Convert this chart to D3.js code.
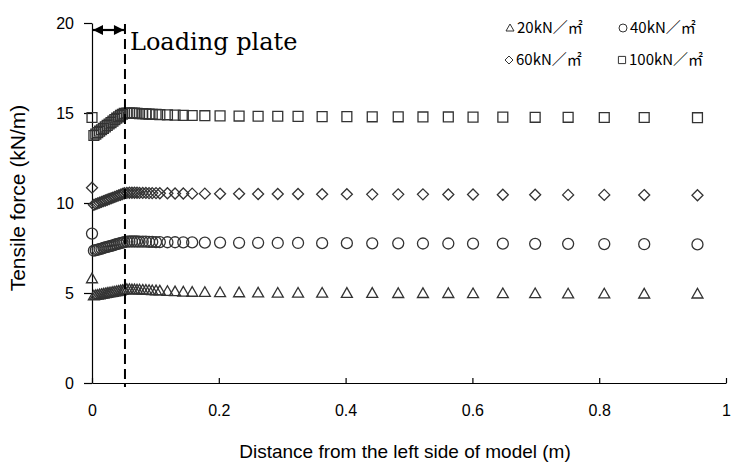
<!DOCTYPE html>
<html>
<head>
<meta charset="utf-8">
<style>
  body { margin: 0; background: #fff; }
  svg { display: block; }
  .axis text { font: 16px "Liberation Sans", Arial, sans-serif; fill: #000; }
  .axis path, .axis line { stroke: #000; stroke-width: 1.2; }
  .xtitle { font: 19px "Liberation Sans", Arial, sans-serif; fill: #000; }
  .ytitle { font: 21px "Liberation Sans", Arial, sans-serif; fill: #000; }
  .legend text { font: 15px "Noto Sans CJK JP", sans-serif; fill: #000; }
  .note { font: 24px "DejaVu Serif", serif; fill: #000; }
</style>
</head>
<body>
<svg id="chart" width="733" height="468"></svg>
<script src="https://cdn.jsdelivr.net/npm/d3@7"></script>
<script>
// distance from the left side of model (m)
var distance = [0, 0.003, 0.006, 0.009, 0.012, 0.015, 0.018, 0.021, 0.024, 0.027,
  0.030, 0.033, 0.036, 0.039, 0.042, 0.045, 0.048, 0.051,
  0.055, 0.059, 0.063, 0.067, 0.071, 0.075, 0.080, 0.085, 0.090, 0.095, 0.101, 0.107,
  0.119, 0.131, 0.144, 0.158, 0.178, 0.202, 0.232, 0.262, 0.293, 0.325,
  0.363, 0.402, 0.442, 0.483, 0.522, 0.562, 0.601,
  0.648, 0.699, 0.751, 0.808, 0.871, 0.955];

// tensile force (kN/m) per loading
var force20 = [5.8,
  4.85, 4.87, 4.89, 4.91, 4.93, 4.95, 4.97, 4.99, 5.01, 5.03, 5.05, 5.07, 5.09, 5.11, 5.13, 5.15, 5.18,
  5.2, 5.2, 5.19, 5.19, 5.18, 5.18, 5.17, 5.16, 5.15, 5.14, 5.13, 5.12,
  5.1, 5.08, 5.06, 5.05, 5.04, 5.03, 5.02, 5.01, 5.0, 5.0,
  5.0, 4.99, 4.99, 4.98, 4.98, 4.98, 4.97,
  4.97, 4.97, 4.96, 4.96, 4.95, 4.95];
var force40 = [8.3,
  7.35, 7.38, 7.41, 7.44, 7.47, 7.50, 7.53, 7.56, 7.59, 7.62, 7.65, 7.68, 7.71, 7.74, 7.77, 7.80, 7.83,
  7.85, 7.86, 7.86, 7.86, 7.86, 7.85, 7.85, 7.85, 7.84, 7.84, 7.83, 7.83,
  7.82, 7.82, 7.81, 7.81, 7.8, 7.8, 7.79, 7.79, 7.78, 7.78,
  7.77, 7.77, 7.76, 7.76, 7.75, 7.75, 7.74,
  7.74, 7.73, 7.73, 7.72, 7.71, 7.7];
var force60 = [10.85,
  9.9, 9.94, 9.98, 10.02, 10.06, 10.1, 10.14, 10.18, 10.22, 10.26, 10.3, 10.34, 10.38, 10.42, 10.46, 10.5, 10.54,
  10.56, 10.57, 10.57, 10.57, 10.57, 10.56, 10.56, 10.56, 10.55, 10.55, 10.55, 10.54,
  10.54, 10.53, 10.53, 10.52, 10.52, 10.51, 10.51, 10.5, 10.5, 10.5,
  10.49, 10.49, 10.48, 10.48, 10.48, 10.47, 10.47,
  10.46, 10.46, 10.45, 10.45, 10.44, 10.43];
var force100 = [14.75,
  13.75, 13.83, 13.91, 13.99, 14.07, 14.15, 14.23, 14.31, 14.39, 14.47, 14.55, 14.63, 14.71, 14.79, 14.87, 14.93, 14.98,
  15.0, 15.0, 15.0, 14.99, 14.98, 14.97, 14.96, 14.95, 14.94, 14.93, 14.92, 14.91,
  14.9, 14.88, 14.87, 14.86, 14.85, 14.84, 14.83, 14.82, 14.82, 14.81,
  14.8, 14.8, 14.79, 14.79, 14.78, 14.78, 14.77,
  14.77, 14.76, 14.76, 14.75, 14.75, 14.74];

var seriesNames = ["20kN／㎡", "40kN／㎡", "60kN／㎡", "100kN／㎡"];
var xTicks = [0, 0.2, 0.4, 0.6, 0.8, 1];
var yTicks = [0, 5, 10, 15, 20];
var plateEdge = 0.052;

// marker shapes, size = half width
var shapes = {
  triangle: { draw: function(c, s) { c.moveTo(0, -s); c.lineTo(s, s * 0.75); c.lineTo(-s, s * 0.75); c.closePath(); } },
  circle:   { draw: function(c, s) { c.moveTo(s, 0); c.arc(0, 0, s, 0, 2 * Math.PI); } },
  diamond:  { draw: function(c, s) { c.moveTo(0, -s); c.lineTo(s, 0); c.lineTo(0, s); c.lineTo(-s, 0); c.closePath(); } },
  square:   { draw: function(c, s) { c.rect(-s * 0.9, -s * 0.9, s * 1.8, s * 1.8); } }
};
function marker(type, s) {
  return d3.symbol().type(shapes[type]).size(s)();
}

var series = [
  { name: seriesNames[0], values: force20, shape: "triangle" },
  { name: seriesNames[1], values: force40, shape: "circle" },
  { name: seriesNames[2], values: force60, shape: "diamond" },
  { name: seriesNames[3], values: force100, shape: "square" }
];

var svg = d3.select("#chart");
var x = d3.scaleLinear().domain([0, 1]).range([92, 726]);
var y = d3.scaleLinear().domain([0, 20]).range([383, 23]);

// axes
svg.append("g")
  .attr("class", "axis")
  .attr("transform", "translate(0,383)")
  .call(d3.axisBottom(x).tickValues(xTicks).tickFormat(d3.format("")).tickSizeInner(-5).tickSizeOuter(0).tickPadding(22));

svg.append("g")
  .attr("class", "axis")
  .attr("transform", "translate(92,0)")
  .call(d3.axisLeft(y).tickValues(yTicks).tickSizeInner(8).tickSizeOuter(0).tickPadding(10));

// markers
series.forEach(function(s) {
  svg.append("g").selectAll("path")
    .data(s.values)
    .enter().append("path")
      .attr("transform", function(d, i) { return "translate(" + x(distance[i]) + "," + y(d) + ")"; })
      .attr("d", marker(s.shape, 5.5))
      .attr("fill", "none")
      .attr("stroke", "#333")
      .attr("stroke-width", 1.3);
});

// loading plate
svg.append("line")
  .attr("x1", x(plateEdge)).attr("x2", x(plateEdge))
  .attr("y1", 24).attr("y2", y(0) + 4)
  .attr("stroke", "#000").attr("stroke-width", 2)
  .attr("stroke-dasharray", "10,5");

var defs = svg.append("defs");
defs.append("marker")
  .attr("id", "head")
  .attr("viewBox", "0 0 10 10")
  .attr("refX", 10).attr("refY", 5)
  .attr("markerUnits", "userSpaceOnUse")
  .attr("markerWidth", 11).attr("markerHeight", 10)
  .attr("orient", "auto-start-reverse")
  .append("path").attr("d", "M0,0L10,5L0,10z").attr("fill", "#000");

svg.append("line")
  .attr("x1", x(0) + 1).attr("x2", x(plateEdge) - 1)
  .attr("y1", 30).attr("y2", 30)
  .attr("stroke", "#000").attr("stroke-width", 2.2)
  .attr("marker-start", "url(#head)")
  .attr("marker-end", "url(#head)");

svg.append("text")
  .attr("class", "note")
  .attr("x", x(plateEdge) + 5)
  .attr("y", 50)
  .text("Loading plate");

// legend
var legendPos = [[510, 28], [623, 28], [509, 60], [622, 60]];
var legend = svg.append("g").attr("class", "legend")
  .selectAll("g")
  .data(series)
  .enter().append("g")
    .attr("transform", function(d, i) { return "translate(" + legendPos[i][0] + "," + legendPos[i][1] + ")"; });

legend.append("path")
  .attr("d", function(d) { return marker(d.shape, 4); })
  .attr("fill", "none")
  .attr("stroke", "#333")
  .attr("stroke-width", 1);

legend.append("text")
  .attr("x", 7)
  .attr("dy", "0.35em")
  .text(function(d) { return d.name; });

// titles
svg.append("text")
  .attr("class", "xtitle")
  .attr("text-anchor", "middle")
  .attr("x", 405).attr("y", 458)
  .text("Distance from the left side of model (m)");

svg.append("text")
  .attr("class", "ytitle")
  .attr("text-anchor", "middle")
  .attr("transform", "translate(25,198) rotate(-90)")
  .text("Tensile force (kN/m)");
</script>
</body>
</html>
